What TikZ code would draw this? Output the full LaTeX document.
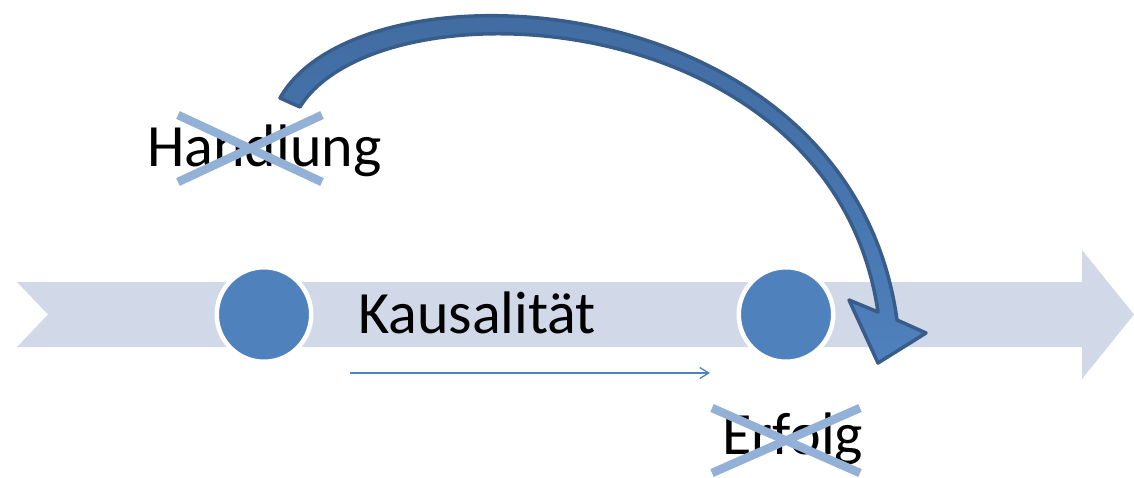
\documentclass[tikz,border=0pt]{standalone}
\usepackage{fontspec}
\setmainfont{Carlito}
\usetikzlibrary{arrows.meta}
\definecolor{band}{HTML}{D1D9E8}
\definecolor{dot}{HTML}{4F81BD}
\definecolor{dotdark}{HTML}{3F6A9F}
\definecolor{dotedge}{HTML}{385D8A}
\definecolor{strike}{HTML}{93B1D6}
\tikzset{
  dotnode/.style={circle, fill=dot, draw=white, line width=4.5pt, minimum size=94.5pt, inner sep=0pt},
  word/.style={anchor=base west, inner sep=0pt, font=\fontsize{60}{72}\selectfont},
  crossline/.style={strike, line width=8.5pt},
}
\begin{document}
\begin{tikzpicture}[x=1pt, y=-1pt]
\useasboundingbox (0,0) rectangle (1134,478);

% timeline band
\fill[band] (17,282) -- (1082,282) -- (1082,250) -- (1134,314.5) -- (1082,379)
  -- (1082,347) -- (17,347) -- (48,314.5) -- cycle;

% events on the timeline
\node[dotnode] (c1) at (264,314.5) {};
\node[dotnode] (c2) at (786,314.5) {};

% labels
\node[word] (kaus) at (358,333) {Kausalität};
\node[word] (hand) at (147,167) {Handlung};
\node[word] (erf) at (722,454) {Erfolg};

% causality arrow
\coordinate (ks) at (350,373);
\coordinate (ke) at (710,373);
\draw[dot, line width=1.3pt, -{Straight Barb[length=9pt, width=11pt, line width=1.3pt]}] (ks) -- (ke);

% curved arrow from action to outcome
\path[top color=dotdark, bottom color=dot, middle color=dotdark!60!dot]
  (280,98) .. controls (360,-45) and (850,-20) .. (897,320)
  -- (926,333) -- (878,363) -- (849,300) -- (878,312)
  .. controls (832,0) and (378,-20) .. (300,107) -- cycle;
\draw[dotedge, line width=3.5pt, line join=round]
  (280,98) .. controls (360,-45) and (850,-20) .. (897,320)
  -- (926,333) -- (878,363) -- (849,300) -- (878,312)
  .. controls (832,0) and (378,-20) .. (300,107) -- cycle;

% strike-through crosses
\draw[crossline] (178,115) -- (322,182);
\draw[crossline] (178,182) -- (322,115);
\draw[crossline] (712,408) -- (860,473);
\draw[crossline] (712,473) -- (860,408);
\end{tikzpicture}
\end{document}
